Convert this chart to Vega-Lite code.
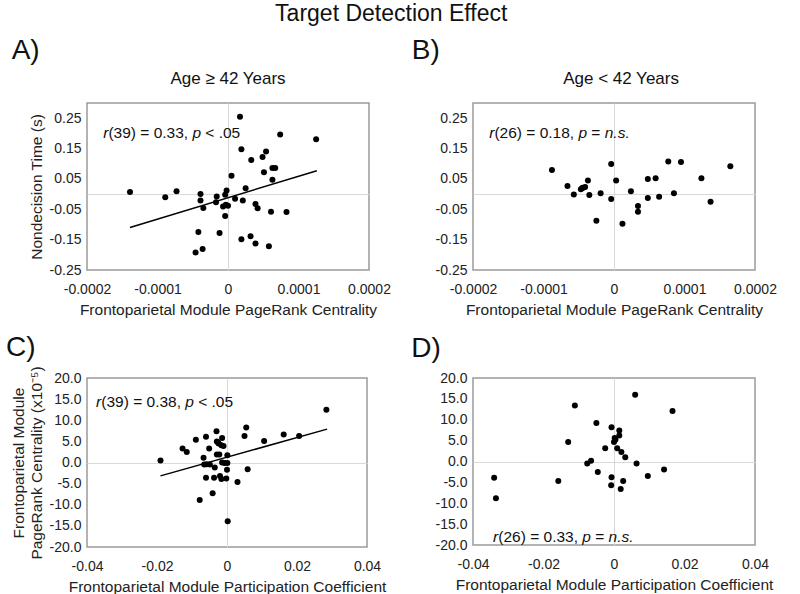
{
  "$schema": "https://vega.github.io/schema/vega-lite/v6.json",
  "padding": {"left": 5, "top": 2, "right": 5, "bottom": 0},
  "background": "white",
  "title": {"text": "Target Detection Effect", "fontSize": 23, "fontWeight": "normal", "anchor": "middle", "color": "#111", "offset": 11},
  "datasets": {
    "one": [{}],
    "a": [
      {"x": -0.000139, "y": 0.007}, {"x": -0.000089, "y": -0.010}, {"x": -0.000073, "y": 0.009}, {"x": -0.000039, "y": 0.000},
      {"x": -0.000039, "y": -0.021}, {"x": -0.000035, "y": -0.046}, {"x": -0.000042, "y": -0.125}, {"x": -0.000036, "y": -0.181},
      {"x": -0.000046, "y": -0.192}, {"x": -0.000016, "y": -0.008}, {"x": -0.000017, "y": -0.027}, {"x": -0.000012, "y": -0.128},
      {"x": -0.000007, "y": -0.041}, {"x": -0.000003, "y": -0.035}, {"x": 0.0, "y": -0.038}, {"x": -0.000004, "y": -0.072},
      {"x": -0.000004, "y": -0.002}, {"x": -0.000002, "y": 0.012}, {"x": 0.000005, "y": 0.060}, {"x": 0.000010, "y": -0.015},
      {"x": 0.000017, "y": 0.255}, {"x": 0.000019, "y": 0.148}, {"x": 0.000021, "y": -0.021}, {"x": 0.000025, "y": 0.019},
      {"x": 0.000019, "y": -0.149}, {"x": 0.000032, "y": -0.139}, {"x": 0.000033, "y": 0.112}, {"x": 0.000039, "y": -0.033},
      {"x": 0.000042, "y": -0.047}, {"x": 0.000039, "y": -0.163}, {"x": 0.000049, "y": 0.122}, {"x": 0.000054, "y": 0.140},
      {"x": 0.000051, "y": 0.072}, {"x": 0.000063, "y": 0.086}, {"x": 0.000067, "y": 0.086}, {"x": 0.000063, "y": 0.047},
      {"x": 0.000061, "y": -0.058}, {"x": 0.000058, "y": -0.172}, {"x": 0.000074, "y": 0.196}, {"x": 0.000083, "y": -0.059},
      {"x": 0.000125, "y": 0.181}
    ],
    "fitA": [{"x": -0.000139, "y": -0.110}, {"x": 0.000126, "y": 0.077}],
    "b": [
      {"x": -0.000088, "y": 0.079}, {"x": -0.000066, "y": 0.027}, {"x": -0.000057, "y": -0.001}, {"x": -0.000047, "y": 0.016},
      {"x": -0.000045, "y": 0.020}, {"x": -0.000041, "y": 0.023}, {"x": -0.000044, "y": 0.021}, {"x": -0.000037, "y": 0.045},
      {"x": -0.000035, "y": -0.003}, {"x": -0.000025, "y": -0.088}, {"x": -0.000019, "y": 0.003}, {"x": -0.000004, "y": 0.099},
      {"x": -0.000004, "y": -0.016}, {"x": 0.000003, "y": 0.045}, {"x": 0.000012, "y": -0.098}, {"x": 0.000024, "y": 0.009},
      {"x": 0.000034, "y": -0.039}, {"x": 0.000034, "y": -0.058}, {"x": 0.000048, "y": 0.050}, {"x": 0.000048, "y": -0.013},
      {"x": 0.000059, "y": 0.052}, {"x": 0.000064, "y": -0.009}, {"x": 0.000077, "y": 0.107}, {"x": 0.000085, "y": 0.003},
      {"x": 0.000095, "y": 0.106}, {"x": 0.000124, "y": 0.052}, {"x": 0.000137, "y": -0.025}, {"x": 0.000165, "y": 0.092}
    ],
    "c": [
      {"x": -0.0190, "y": 0.47}, {"x": -0.0127, "y": 3.3}, {"x": -0.0115, "y": 2.5}, {"x": -0.0089, "y": 5.4},
      {"x": -0.0078, "y": -8.9}, {"x": -0.0067, "y": 1.1}, {"x": -0.0065, "y": -0.5}, {"x": -0.0060, "y": 6.1},
      {"x": -0.0060, "y": -3.6}, {"x": -0.0051, "y": 3.3}, {"x": -0.0049, "y": -0.5}, {"x": -0.0041, "y": -7.3},
      {"x": -0.0037, "y": -3.6}, {"x": -0.0035, "y": -1.2}, {"x": -0.0030, "y": 7.4}, {"x": -0.0029, "y": 5.0},
      {"x": -0.0024, "y": 4.5}, {"x": -0.0029, "y": 1.9}, {"x": -0.0022, "y": 1.9}, {"x": -0.0020, "y": -3.2},
      {"x": -0.0016, "y": -3.9}, {"x": -0.0014, "y": 5.8}, {"x": -0.0016, "y": 4.1}, {"x": -0.0010, "y": 3.9},
      {"x": -0.0014, "y": 0.0}, {"x": -0.0007, "y": -0.1}, {"x": -0.0002, "y": -3.8}, {"x": 0.0000, "y": -1.7},
      {"x": 0.0001, "y": -0.1}, {"x": 0.0001, "y": 1.7}, {"x": 0.0002, "y": -13.9}, {"x": 0.0030, "y": -4.6},
      {"x": 0.0050, "y": 6.3}, {"x": 0.0055, "y": 8.3}, {"x": 0.0059, "y": -1.6}, {"x": 0.0106, "y": 5.1},
      {"x": 0.0162, "y": 6.6}, {"x": 0.0206, "y": 6.3}, {"x": 0.0284, "y": 12.5}, {"x": -0.0058, "y": -0.4},
      {"x": -0.0026, "y": 4.8}
    ],
    "fitC": [{"x": -0.0190, "y": -3.16}, {"x": 0.0286, "y": 7.9}],
    "d": [
      {"x": -0.0340, "y": -3.9}, {"x": -0.0335, "y": -8.8}, {"x": -0.0158, "y": -4.7}, {"x": -0.0130, "y": 4.7},
      {"x": -0.0111, "y": 13.4}, {"x": -0.0076, "y": -0.5}, {"x": -0.0065, "y": 0.2}, {"x": -0.0050, "y": 9.2},
      {"x": -0.0046, "y": -2.5}, {"x": -0.0025, "y": 3.2}, {"x": -0.0007, "y": 8.2}, {"x": -0.0007, "y": -3.8},
      {"x": -0.0008, "y": -5.7}, {"x": 0.0002, "y": 5.6}, {"x": 0.0000, "y": 4.7}, {"x": 0.0009, "y": 3.2},
      {"x": 0.0015, "y": 7.4}, {"x": 0.0015, "y": 6.2}, {"x": 0.0021, "y": 2.3}, {"x": 0.0026, "y": -4.7},
      {"x": 0.0019, "y": -6.6}, {"x": 0.0032, "y": 1.0}, {"x": 0.0060, "y": 16.0}, {"x": 0.0064, "y": -0.5},
      {"x": 0.0096, "y": -3.5}, {"x": 0.0142, "y": -1.9}, {"x": 0.0166, "y": 12.1}, {"x": 0.0004, "y": 5.2}
    ]
  },
  "columns": 2,
  "bounds": "flush",
  "spacing": {"row": 108, "column": 104},
  "concat": [
    {
      "width": 282, "height": 167,
      "layer": [
        {"data": {"name": "a"}, "mark": {"type": "circle", "size": 36, "color": "black", "opacity": 1},
         "encoding": {
           "x": {"field": "x", "type": "quantitative", "scale": {"domain": [-0.0002, 0.0002], "nice": false, "zero": false},
                 "axis": {"values": [-0.0002, -0.0001, 0, 0.0001, 0.0002], "tickCount": 20, "labelOverlap": false, "labelExpr": "datum.value === 0 ? '0' : replace(format(datum.value, '.4f'), '−', '-')", "title": "Frontoparietal Module PageRank Centrality", "labelPadding": 12, "titlePadding": 6}},
           "y": {"field": "y", "type": "quantitative", "scale": {"domain": [-0.25, 0.3], "nice": false, "zero": false},
                 "axis": {"values": [-0.25, -0.15, -0.05, 0, 0.05, 0.15, 0.25], "tickCount": 20, "labelOverlap": false, "labelExpr": "datum.value === 0 ? '' : replace(format(datum.value, '.2f'), '−', '-')", "title": "Nondecision Time (s)", "titlePadding": 5}}
         }},
        {"data": {"name": "fitA"}, "mark": {"type": "line", "color": "black", "strokeWidth": 1.5},
         "encoding": {"x": {"field": "x", "type": "quantitative"}, "y": {"field": "y", "type": "quantitative"}}},
        {"data": {"name": "one"}, "mark": {"type": "text", "fontSize": 28, "align": "center", "baseline": "middle", "color": "#111"}, "encoding": {"x": {"datum": -0.000287}, "y": {"datum": 0.47}, "text": {"value": "A)"}}},
        {"data": {"name": "one"}, "mark": {"type": "text", "fontSize": 17, "align": "center", "baseline": "middle", "color": "#111"}, "encoding": {"x": {"datum": 0}, "y": {"datum": 0.379}, "text": {"value": "Age ≥ 42 Years"}}},
        {"data": {"name": "one"}, "mark": {"type": "text", "fontSize": 15.5, "align": "left", "baseline": "middle", "fontStyle": "italic", "color": "#111"}, "encoding": {"x": {"datum": -0.000177}, "y": {"datum": 0.2}, "text": {"value": "r"}}},
        {"data": {"name": "one"}, "mark": {"type": "text", "fontSize": 15.5, "align": "left", "baseline": "middle", "dx": 5.2, "color": "#111"}, "encoding": {"x": {"datum": -0.000177}, "y": {"datum": 0.2}, "text": {"value": "(39) = 0.33,"}}},
        {"data": {"name": "one"}, "mark": {"type": "text", "fontSize": 15.5, "align": "left", "baseline": "middle", "dx": 89.2, "fontStyle": "italic", "color": "#111"}, "encoding": {"x": {"datum": -0.000177}, "y": {"datum": 0.2}, "text": {"value": "p"}}},
        {"data": {"name": "one"}, "mark": {"type": "text", "fontSize": 15.5, "align": "left", "baseline": "middle", "dx": 102.1, "color": "#111"}, "encoding": {"x": {"datum": -0.000177}, "y": {"datum": 0.2}, "text": {"value": "< .05"}}}
      ]
    },
    {
      "width": 282, "height": 167,
      "layer": [
        {"data": {"name": "b"}, "mark": {"type": "circle", "size": 36, "color": "black", "opacity": 1},
         "encoding": {
           "x": {"field": "x", "type": "quantitative", "scale": {"domain": [-0.0002, 0.0002], "nice": false, "zero": false},
                 "axis": {"values": [-0.0002, -0.0001, 0, 0.0001, 0.0002], "tickCount": 20, "labelOverlap": false, "labelExpr": "datum.value === 0 ? '0' : replace(format(datum.value, '.4f'), '−', '-')", "title": "Frontoparietal Module PageRank Centrality", "labelPadding": 12, "titlePadding": 6}},
           "y": {"field": "y", "type": "quantitative", "scale": {"domain": [-0.25, 0.3], "nice": false, "zero": false},
                 "axis": {"values": [-0.25, -0.15, -0.05, 0, 0.05, 0.15, 0.25], "tickCount": 20, "labelOverlap": false, "labelExpr": "datum.value === 0 ? '' : replace(format(datum.value, '.2f'), '−', '-')", "title": null}}
         }},
        {"data": {"name": "one"}, "mark": {"type": "text", "fontSize": 28, "align": "center", "baseline": "middle", "color": "#111"}, "encoding": {"x": {"datum": -0.000267}, "y": {"datum": 0.47}, "text": {"value": "B)"}}},
        {"data": {"name": "one"}, "mark": {"type": "text", "fontSize": 17, "align": "center", "baseline": "middle", "color": "#111"}, "encoding": {"x": {"datum": 0.00001}, "y": {"datum": 0.379}, "text": {"value": "Age < 42 Years"}}},
        {"data": {"name": "one"}, "mark": {"type": "text", "fontSize": 15.5, "align": "left", "baseline": "middle", "fontStyle": "italic", "color": "#111"}, "encoding": {"x": {"datum": -0.000177}, "y": {"datum": 0.2}, "text": {"value": "r"}}},
        {"data": {"name": "one"}, "mark": {"type": "text", "fontSize": 15.5, "align": "left", "baseline": "middle", "dx": 5.2, "color": "#111"}, "encoding": {"x": {"datum": -0.000177}, "y": {"datum": 0.2}, "text": {"value": "(26) = 0.18,"}}},
        {"data": {"name": "one"}, "mark": {"type": "text", "fontSize": 15.5, "align": "left", "baseline": "middle", "dx": 89.2, "fontStyle": "italic", "color": "#111"}, "encoding": {"x": {"datum": -0.000177}, "y": {"datum": 0.2}, "text": {"value": "p"}}},
        {"data": {"name": "one"}, "mark": {"type": "text", "fontSize": 15.5, "align": "left", "baseline": "middle", "dx": 102.1, "color": "#111"}, "encoding": {"x": {"datum": -0.000177}, "y": {"datum": 0.2}, "text": {"value": "="}}},
        {"data": {"name": "one"}, "mark": {"type": "text", "fontSize": 15.5, "align": "left", "baseline": "middle", "dx": 115.5, "fontStyle": "italic", "color": "#111"}, "encoding": {"x": {"datum": -0.000177}, "y": {"datum": 0.2}, "text": {"value": "n.s."}}}
      ]
    },
    {
      "width": 280, "height": 169,
      "layer": [
        {"data": {"name": "c"}, "mark": {"type": "circle", "size": 36, "color": "black", "opacity": 1},
         "encoding": {
           "x": {"field": "x", "type": "quantitative", "scale": {"domain": [-0.04, 0.04], "nice": false, "zero": false},
                 "axis": {"values": [-0.04, -0.02, 0, 0.02, 0.04], "tickCount": 20, "labelOverlap": false, "labelExpr": "datum.value === 0 ? '0' : replace(format(datum.value, '.2f'), '−', '-')", "title": "Frontoparietal Module Participation Coefficient", "labelPadding": 12, "titlePadding": 6}},
           "y": {"field": "y", "type": "quantitative", "scale": {"domain": [-20, 20], "nice": false, "zero": false},
                 "axis": {"values": [-20, -15, -10, -5, 0, 5, 10, 15, 20], "tickCount": 20, "labelOverlap": false, "labelExpr": "replace(format(datum.value, '.1f'), '−', '-')", "title": ["Frontoparietal Module", "PageRank Centrality (x10⁻⁵)"], "titlePadding": 5}}
         }},
        {"data": {"name": "fitC"}, "mark": {"type": "line", "color": "black", "strokeWidth": 1.5},
         "encoding": {"x": {"field": "x", "type": "quantitative"}, "y": {"field": "y", "type": "quantitative"}}},
        {"data": {"name": "one"}, "mark": {"type": "text", "fontSize": 28, "align": "center", "baseline": "middle", "color": "#111"}, "encoding": {"x": {"datum": -0.0589}, "y": {"datum": 27}, "text": {"value": "C)"}}},
        {"data": {"name": "one"}, "mark": {"type": "text", "fontSize": 15.5, "align": "left", "baseline": "middle", "fontStyle": "italic", "color": "#111"}, "encoding": {"x": {"datum": -0.0374}, "y": {"datum": 14.4}, "text": {"value": "r"}}},
        {"data": {"name": "one"}, "mark": {"type": "text", "fontSize": 15.5, "align": "left", "baseline": "middle", "dx": 5.2, "color": "#111"}, "encoding": {"x": {"datum": -0.0374}, "y": {"datum": 14.4}, "text": {"value": "(39) = 0.38,"}}},
        {"data": {"name": "one"}, "mark": {"type": "text", "fontSize": 15.5, "align": "left", "baseline": "middle", "dx": 89.2, "fontStyle": "italic", "color": "#111"}, "encoding": {"x": {"datum": -0.0374}, "y": {"datum": 14.4}, "text": {"value": "p"}}},
        {"data": {"name": "one"}, "mark": {"type": "text", "fontSize": 15.5, "align": "left", "baseline": "middle", "dx": 102.1, "color": "#111"}, "encoding": {"x": {"datum": -0.0374}, "y": {"datum": 14.4}, "text": {"value": "< .05"}}}
      ]
    },
    {
      "width": 282, "height": 167,
      "layer": [
        {"data": {"name": "d"}, "mark": {"type": "circle", "size": 36, "color": "black", "opacity": 1},
         "encoding": {
           "x": {"field": "x", "type": "quantitative", "scale": {"domain": [-0.04, 0.04], "nice": false, "zero": false},
                 "axis": {"values": [-0.04, -0.02, 0, 0.02, 0.04], "tickCount": 20, "labelOverlap": false, "labelExpr": "datum.value === 0 ? '0' : replace(format(datum.value, '.2f'), '−', '-')", "title": "Frontoparietal Module Participation Coefficient", "labelPadding": 12, "titlePadding": 6}},
           "y": {"field": "y", "type": "quantitative", "scale": {"domain": [-20, 20], "nice": false, "zero": false},
                 "axis": {"values": [-20, -15, -10, -5, 0, 5, 10, 15, 20], "tickCount": 20, "labelOverlap": false, "labelExpr": "replace(format(datum.value, '.1f'), '−', '-')", "title": null}}
         }},
        {"data": {"name": "one"}, "mark": {"type": "text", "fontSize": 28, "align": "center", "baseline": "middle", "color": "#111"}, "encoding": {"x": {"datum": -0.0533}, "y": {"datum": 27}, "text": {"value": "D)"}}},
        {"data": {"name": "one"}, "mark": {"type": "text", "fontSize": 15.5, "align": "left", "baseline": "middle", "fontStyle": "italic", "color": "#111"}, "encoding": {"x": {"datum": -0.0343}, "y": {"datum": -18.2}, "text": {"value": "r"}}},
        {"data": {"name": "one"}, "mark": {"type": "text", "fontSize": 15.5, "align": "left", "baseline": "middle", "dx": 5.2, "color": "#111"}, "encoding": {"x": {"datum": -0.0343}, "y": {"datum": -18.2}, "text": {"value": "(26) = 0.33,"}}},
        {"data": {"name": "one"}, "mark": {"type": "text", "fontSize": 15.5, "align": "left", "baseline": "middle", "dx": 89.2, "fontStyle": "italic", "color": "#111"}, "encoding": {"x": {"datum": -0.0343}, "y": {"datum": -18.2}, "text": {"value": "p"}}},
        {"data": {"name": "one"}, "mark": {"type": "text", "fontSize": 15.5, "align": "left", "baseline": "middle", "dx": 102.1, "color": "#111"}, "encoding": {"x": {"datum": -0.0343}, "y": {"datum": -18.2}, "text": {"value": "="}}},
        {"data": {"name": "one"}, "mark": {"type": "text", "fontSize": 15.5, "align": "left", "baseline": "middle", "dx": 115.5, "fontStyle": "italic", "color": "#111"}, "encoding": {"x": {"datum": -0.0343}, "y": {"datum": -18.2}, "text": {"value": "n.s."}}}
      ]
    }
  ],
  "config": {
    "font": "Liberation Sans",
    "view": {"stroke": "#9a9a9a", "strokeWidth": 1.5},
    "axis": {"domain": false, "ticks": false, "grid": true, "gridColor": {"condition": {"test": "datum.value === 0", "value": "#d9d9d9"}, "value": "transparent"}, "gridWidth": 1, "tickCount": 20, "labelFontSize": 14, "labelColor": "#222", "titleFontSize": 15.5, "titleColor": "#222", "titleFontWeight": "normal", "labelFlush": false, "labelOverlap": false, "labelPadding": 6},
    "title": {"font": "Liberation Sans", "fontWeight": "normal", "color": "#111"}
  }
}
